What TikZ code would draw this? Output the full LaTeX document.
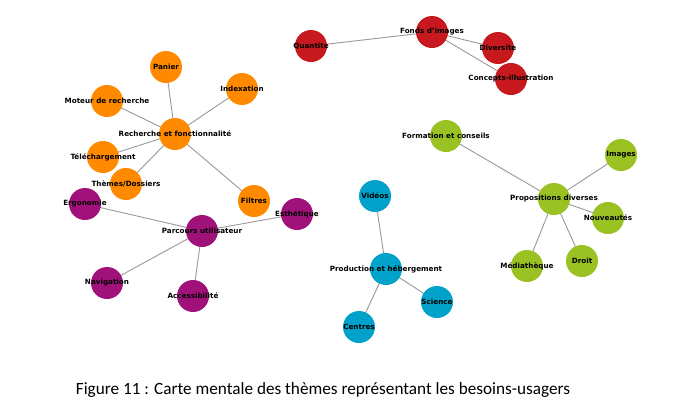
\documentclass[tikz,border=0pt]{standalone}
\usepackage{fontspec}
\usetikzlibrary{backgrounds}
\setmainfont{DejaVu Sans}
\newfontfamily\capfont{Carlito}
\definecolor{corange}{HTML}{FF8A00}
\definecolor{cpurple}{HTML}{A0127A}
\definecolor{cred}{HTML}{C8191F}
\definecolor{cgreen}{HTML}{99C222}
\definecolor{cblue}{HTML}{00A2CA}
\definecolor{cedge}{HTML}{999999}
\tikzset{
  bub/.style={circle, minimum size=32pt, inner sep=0pt, draw=none},
  lbl/.style={font=\fontsize{7.2}{8}\selectfont\bfseries, text=black, inner sep=0pt},
  org/.style={bub, fill=corange},
  pur/.style={bub, fill=cpurple},
  rd/.style={bub, fill=cred},
  grn/.style={bub, fill=cgreen},
  blu/.style={bub, fill=cblue},
  edge/.style={draw=cedge, line width=0.9pt}
}
\begin{document}
\begin{tikzpicture}[x=1pt,y=-1pt]
\useasboundingbox (0,0) rectangle (673,402);
% orange
\node[org] (rf) at (175,134) {};
\node[org] (pan) at (166,67) {};
\node[org] (idx) at (242,89) {};
\node[org] (mot) at (107,101) {};
\node[org] (tel) at (103,157) {};
\node[org] (the) at (126,184) {};
\node[org] (fil) at (254,201) {};
% purple
\node[pur] (pu) at (202,231) {};
\node[pur] (erg) at (85,204) {};
\node[pur] (est) at (297,214) {};
\node[pur] (nav) at (107,283) {};
\node[pur] (acc) at (193,296) {};
% red
\node[rd] (fi) at (432,32) {};
\node[rd] (qua) at (311,46) {};
\node[rd] (div) at (498,48) {};
\node[rd] (con) at (511,79) {};
% green
\node[grn] (fc) at (446,136) {};
\node[grn] (pd) at (554,199) {};
\node[grn] (img) at (621,155) {};
\node[grn] (nou) at (608,218) {};
\node[grn] (dro) at (582,261) {};
\node[grn] (med) at (527,266) {};
% blue
\node[blu] (vid) at (375,196) {};
\node[blu] (ph) at (386,269) {};
\node[blu] (sci) at (437,302) {};
\node[blu] (cen) at (359,327) {};
% edges (behind nodes)
\begin{scope}[on background layer]
\fill[white] (0,0) rectangle (673,402);
\path[edge] (rf.center) -- (pan.center) (rf.center) -- (idx.center) (rf.center) -- (mot.center) (rf.center) -- (tel.center) (rf.center) -- (the.center) (rf.center) -- (fil.center);
\path[edge] (pu.center) -- (erg.center) (pu.center) -- (est.center) (pu.center) -- (nav.center) (pu.center) -- (acc.center);
\path[edge] (fi.center) -- (qua.center) (fi.center) -- (div.center) (fi.center) -- (con.center);
\path[edge] (pd.center) -- (fc.center) (pd.center) -- (img.center) (pd.center) -- (nou.center) (pd.center) -- (dro.center) (pd.center) -- (med.center);
\path[edge] (ph.center) -- (vid.center) (ph.center) -- (sci.center) (ph.center) -- (cen.center);
\end{scope}
% labels
\node[lbl] (lrf) at (rf) {Recherche et fonctionnalité};
\node[lbl] (lpan) at (pan) {Panier};
\node[lbl] (lidx) at (idx) {Indexation};
\node[lbl] (lmot) at (mot) {Moteur de recherche};
\node[lbl] (ltel) at (tel) {Téléchargement};
\node[lbl] (lthe) at (the) {Thèmes/Dossiers};
\node[lbl] (lfil) at (fil) {Filtres};
\node[lbl] (lpu) at (pu) {Parcours utilisateur};
\node[lbl] (lerg) at (erg) {Ergonomie};
\node[lbl] (lest) at (est) {Esthétique};
\node[lbl] (lnav) at (nav) {Navigation};
\node[lbl] (lacc) at (acc) {Accessibilité};
\node[lbl] (lfi) at (fi) {Fonds d'images};
\node[lbl] (lqua) at (qua) {Quantite};
\node[lbl] (ldiv) at (div) {Diversite};
\node[lbl] (lcon) at (con) {Concepts-illustration};
\node[lbl] (lfc) at (fc) {Formation et conseils};
\node[lbl] (lpd) at (pd) {Propositions diverses};
\node[lbl] (limg) at (img) {Images};
\node[lbl] (lnou) at (nou) {Nouveautés};
\node[lbl] (ldro) at (dro) {Droit};
\node[lbl] (lmed) at (med) {Médiathèque};
\node[lbl] (lvid) at (vid) {Vidéos};
\node[lbl] (lph) at (ph) {Production et hébergement};
\node[lbl] (lsci) at (sci) {Science};
\node[lbl] (lcen) at (cen) {Centres};
% caption
\node[font=\capfont\fontsize{17.2}{20}\selectfont, inner sep=0pt] (cap) at (323,390) {Figure 11 : Carte mentale des thèmes représentant les besoins-usagers};
\end{tikzpicture}
\end{document}
